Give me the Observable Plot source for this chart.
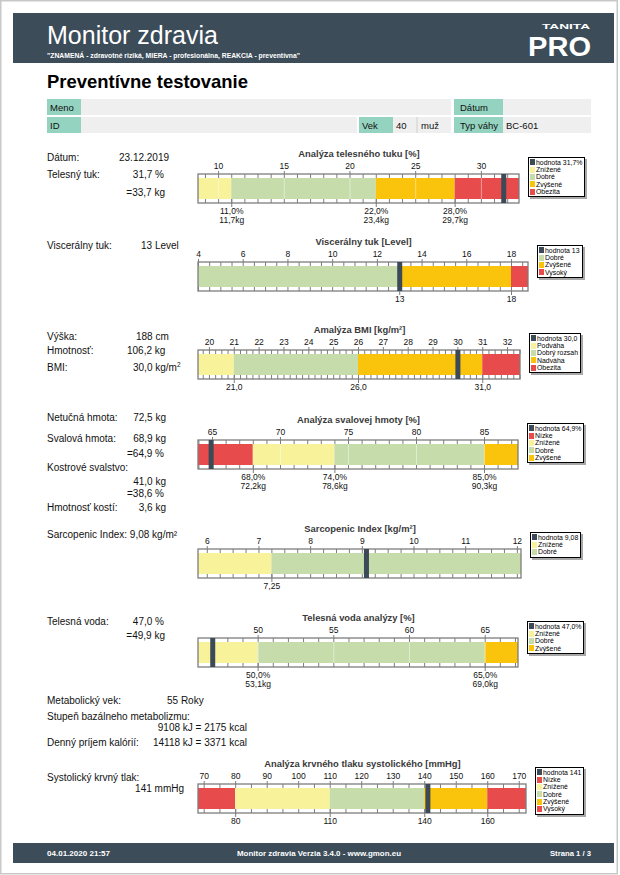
<!DOCTYPE html>
<html><head><meta charset="utf-8">
<script src="https://cdn.jsdelivr.net/npm/d3@7"></script>
<script src="https://cdn.jsdelivr.net/npm/@observablehq/plot@0.6"></script>
<style>
body{margin:0;background:#fff;font-family:"Liberation Sans",Arial,sans-serif;}
#page{position:relative;width:620px;height:875px;overflow:hidden;background:#fff;}
.leg{position:absolute;border:1px solid #000;background:#fff;box-shadow:2px 2px 0 #a8a8a8;font-family:"Liberation Sans",Arial,sans-serif;font-size:6.9px;line-height:7.4px;padding:1px 2px 1px 1px;color:#000;white-space:nowrap;}
.leg .row{height:7.4px;display:flex;align-items:center;}
.leg .sw{display:inline-block;width:4.5px;height:6px;margin-right:1.5px;}
</style></head><body><div id="page"></div>
<script>
// ---------------- DATA ----------------
// Body fat
const fatDomain = [8.47, 32.9];
const fatTicks = [10, 15, 20, 25, 30];
const fatLimits = [11, 22, 28];
const fatZones = ["Znížené", "Dobré", "Zvýšené", "Obezita"];
const fatValue = 31.7;
const fatLabelsA = ["11,0%", "22,0%", "28,0%"];
const fatLabelsB = ["11,7kg", "23,4kg", "29,7kg"];
// Visceral fat
const visDomain = [4, 18.76];
const visTicks = [4, 6, 8, 10, 12, 14, 16, 18];
const visLimits = [13, 18];
const visZones = ["Dobré", "Zvýšené", "Vysoký"];
const visValue = 13;
const visLabelsA = ["13", "18"];
// BMI
const bmiDomain = [19.56, 32.52];
const bmiTicks = [20, 21, 22, 23, 24, 25, 26, 27, 28, 29, 30, 31, 32];
const bmiLimits = [21, 26, 31];
const bmiZones = ["Podváha", "Dobrý rozsah", "Nadváha", "Obezita"];
const bmiValue = 30.0;
const bmiLabelsA = ["21,0", "26,0", "31,0"];
// Muscle mass
const musDomain = [63.97, 87.5];
const musTicks = [65, 70, 75, 80, 85];
const musLimits = [68, 74, 85];
const musZones = ["Nízke", "Znížené", "Dobré", "Zvýšené"];
const musValue = 64.9;
const musLabelsA = ["68,0%", "74,0%", "85,0%"];
const musLabelsB = ["72,2kg", "78,6kg", "90,3kg"];
// Sarcopenic index
const sarDomain = [5.83, 12.08];
const sarTicks = [6, 7, 8, 9, 10, 11, 12];
const sarLimits = [7.25];
const sarZones = ["Znížené", "Dobré"];
const sarValue = 9.08;
const sarLabelsA = ["7,25"];
// Body water
const watDomain = [46.06, 67.2];
const watTicks = [50, 55, 60, 65];
const watLimits = [50, 65];
const watZones = ["Znížené", "Dobré", "Zvýšené"];
const watValue = 47.0;
const watLabelsA = ["50,0%", "65,0%"];
const watLabelsB = ["53,1kg", "69,0kg"];
// Systolic blood pressure
const bpDomain = [68.2, 172.3];
const bpTicks = [70, 80, 90, 100, 110, 120, 130, 140, 150, 160, 170];
const bpLimits = [80, 110, 140, 160];
const bpZones = ["Nízke", "Znížené", "Dobré", "Zvýšené", "Vysoký"];
const bpValue = 141;
const bpLabelsA = ["80", "110", "140", "160"];

// ---------------- STYLE ----------------
const C = {yellow:"#f8f29b", green:"#c6dcab", orange:"#f9c40b", red:"#e84b4b", mark:"#3b4a56", frame:"#7d7d7d"};
const zoneColor = {"Nízke":C.red, "Znížené":C.yellow, "Podváha":C.yellow, "Dobré":C.green, "Dobrý rozsah":C.green,
  "Zvýšené":C.orange, "Nadváha":C.orange, "Obezita":C.red, "Vysoký":C.red};
const FONT = '"Liberation Sans", Arial, sans-serif';

const charts = [
  {title:"Analýza telesného tuku [%]", domain:fatDomain, ticks:fatTicks, minor:1, limits:fatLimits, zones:fatZones, value:fatValue, la:fatLabelsA, lb:fatLabelsB, legendValue:"hodnota 31,7%", top:174, right:519, grid:true},
  {title:"Viscerálny tuk [Level]", domain:visDomain, ticks:visTicks, minor:0.5, limits:visLimits, zones:visZones, value:visValue, la:visLabelsA, legendValue:"hodnota 13", top:262, right:528},
  {title:"Amalýza BMI [kg/m²]", domain:bmiDomain, ticks:bmiTicks, minor:0.25, limits:bmiLimits, zones:bmiZones, value:bmiValue, la:bmiLabelsA, legendValue:"hodnota 30,0", top:350, right:520},
  {title:"Analýza svalovej hmoty [%]", domain:musDomain, ticks:musTicks, minor:1, limits:musLimits, zones:musZones, value:musValue, la:musLabelsA, lb:musLabelsB, legendValue:"hodnota 64,9%", top:440, right:518, grid:true},
  {title:"Sarcopenic Index [kg/m²]", domain:sarDomain, ticks:sarTicks, minor:0.25, limits:sarLimits, zones:sarZones, value:sarValue, la:sarLabelsA, legendValue:"hodnota 9,08", top:549, right:521},
  {title:"Telesná voda analýzy [%]", domain:watDomain, ticks:watTicks, minor:1, limits:watLimits, zones:watZones, value:watValue, la:watLabelsA, lb:watLabelsB, legendValue:"hodnota 47,0%", top:638, right:518, grid:true},
  {title:"Analýza krvného tlaku systolického [mmHg]", domain:bpDomain, ticks:bpTicks, minor:5, limits:bpLimits, zones:bpZones, value:bpValue, la:bpLabelsA, legendValue:"hodnota 141", top:784, right:526}
];

const page = document.getElementById("page");

// ---------------- STATIC PAGE (header, table, texts) ----------------
const bg = d3.select(page).append("svg").attr("width",620).attr("height",875)
  .style("position","absolute").style("left","0px").style("top","0px")
  .style("font-family", FONT);
bg.append("rect").attr("x",0.75).attr("y",0.75).attr("width",616.5).attr("height",873).attr("fill","none").attr("stroke","#c8c8c8").attr("stroke-width",1.5);
bg.append("rect").attr("x",13).attr("y",13).attr("width",601).attr("height",50).attr("fill","#3c4c59");
function T(x, y, s, o = {}) {
  const t = bg.append("text").attr("x",x).attr("y",y).text(s)
    .attr("font-size", o.size || 10).attr("fill", o.fill || "#111")
    .attr("font-weight", o.bold ? "bold" : "normal")
    .attr("text-anchor", o.anchor || "start");
  if (o.len) t.attr("textLength", o.len).attr("lengthAdjust","spacingAndGlyphs");
  return t;
}
T(47, 44, "Monitor zdravia", {size:25, fill:"#fff"});
T(47, 57.5, "\"ZNAMENÁ - zdravotné riziká, MIERA - profesionálna, REAKCIA - preventívna\"", {size:7, fill:"#fff", bold:true, len:253});
T(542, 28.5, "TANITA", {size:7, fill:"#fff", bold:true, len:48});
T(528, 55.5, "PRO", {size:27, fill:"#fff", bold:true, len:63});
T(47, 88, "Preventívne testovanie", {size:18.5, bold:true, fill:"#000", len:201});

// info table
const teal = "#93d3bf", gray = "#efefef";
function cell(x, y, w, fill) { bg.append("rect").attr("x",x).attr("y",y).attr("width",w).attr("height",16).attr("fill",fill); }
cell(47,99,34,teal); cell(81,99,370,gray); cell(454,99,49,teal); cell(503,99,88,gray);
cell(47,117,34,teal); cell(81,117,276,gray); cell(359,117,34,teal); cell(393,117,58,gray); cell(454,117,49,teal); cell(503,117,88,gray);
bg.append("line").attr("x1",417).attr("x2",417).attr("y1",117).attr("y2",133).attr("stroke","#cfcfcf");
T(50,111,"Meno",{size:9.5}); T(460,111,"Dátum",{size:9.5});
T(50,129,"ID",{size:9.5}); T(362,129,"Vek",{size:9.5}); T(396,129,"40",{size:9.5}); T(421,129,"muž",{size:9.5});
T(460,129,"Typ váhy",{size:9.5}); T(506,129,"BC-601",{size:9.5});

// left texts
T(47,161,"Dátum:"); T(119,161,"23.12.2019");
T(47,177.5,"Telesný tuk:"); T(164,177.5,"31,7 %",{anchor:"end"});
T(165,196,"=33,7 kg",{anchor:"end"});
T(47,248.5,"Viscerálny tuk:"); T(141,248.5,"13 Level");
T(47,340,"Výška:"); T(136,340,"188 cm");
T(47,354,"Hmotnosť:"); T(127,354,"106,2 kg");
T(47,371,"BMI:");
const bmiT = T(133,371,"30,0 kg/m"); bmiT.append("tspan").attr("dy",-4).attr("font-size",6.5).text("2");
T(47,421,"Netučná hmota:"); T(166,421,"72,5 kg",{anchor:"end"});
T(47,442,"Svalová hmota:"); T(166,442,"68,9 kg",{anchor:"end"});
T(164,457,"=64,9 %",{anchor:"end"});
T(47,471,"Kostrové svalstvo:");
T(166,485,"41,0 kg",{anchor:"end"});
T(164,497,"=38,6 %",{anchor:"end"});
T(47,511,"Hmotnosť kostí:"); T(166,511,"3,6 kg",{anchor:"end"});
T(47,537.5,"Sarcopenic Index: 9,08 kg/m²");
T(47,625,"Telesná voda:"); T(164,625,"47,0 %",{anchor:"end"});
T(165,639,"=49,9 kg",{anchor:"end"});
T(47,704,"Metabolický vek:"); T(167,704,"55 Roky");
T(47,720,"Stupeň bazálneho metabolizmu:");
T(247,731,"9108 kJ = 2175 kcal",{anchor:"end"});
T(47,746,"Denný príjem kalórií:"); T(247,746,"14118 kJ = 3371 kcal",{anchor:"end"});
T(47,781,"Systolický krvný tlak:"); T(184,792,"141 mmHg",{anchor:"end"});

// footer
bg.append("rect").attr("x",13).attr("y",843).attr("width",601).attr("height",20).attr("fill","#3c4c59");
T(47,855.5,"04.01.2020 21:57",{size:7.5, fill:"#fff", bold:true, len:63});
T(237,855.5,"Monitor zdravia Verzia 3.4.0 - www.gmon.eu",{size:7.5, fill:"#fff", bold:true, len:164});
T(550,855.5,"Strana 1 / 3",{size:7.5, fill:"#fff", bold:true, len:41});

// ---------------- CHARTS ----------------
const OFF = 30, SH = 86; // frame top inside each svg, svg height
charts.forEach(c => {
  const F = OFF;
  const edges = [c.domain[0], ...c.limits, c.domain[1]];
  const bands = c.zones.map((z, i) => ({zone: z, x1: edges[i], x2: edges[i + 1]}));
  const minor = d3.range(Math.ceil(c.domain[0] / c.minor) * c.minor, c.domain[1] + 1e-9, c.minor).filter(v => !c.ticks.includes(+v.toFixed(4)));
  const mid = (c.domain[0] + c.domain[1]) / 2;
  const marks = [
    Plot.rect(bands, {x1: "x1", x2: "x2", y1: F + 4, y2: F + 25, fill: d => zoneColor[d.zone]}),
    c.grid ? Plot.ruleX(c.ticks, {x: d => d, y1: F + 4, y2: F + 25, stroke: "#ffffff", strokeOpacity: 0.45, strokeWidth: 1}) : null,
    Plot.rect([c.domain], {x1: d => d[0], x2: d => d[1], y1: F, y2: F + 29, fill: "none", stroke: C.frame, strokeWidth: 1.3}),
    Plot.ruleX(minor, {x: d => d, y1: F, y2: F + 4, stroke: C.frame, strokeWidth: 1}),
    Plot.ruleX(c.ticks, {x: d => d, y1: F - 3, y2: F + 4, stroke: C.frame, strokeWidth: 1}),
    Plot.ruleX([...minor, ...c.ticks], {x: d => d, y1: F + 25, y2: F + 29, stroke: C.frame, strokeWidth: 1}),
    Plot.ruleX(c.limits, {x: d => d, y1: F + 25, y2: F + 33, stroke: C.frame, strokeWidth: 1}),
    Plot.ruleX([c.value], {x: d => d, y1: F, y2: F + 29, stroke: C.mark, strokeWidth: 5}),
    Plot.text(c.ticks, {x: d => d, y: F - 5.5, text: d => String(d), fontSize: 8.5, fill: "#111", lineAnchor: "bottom"}),
    Plot.text(c.la, {x: (d, i) => c.limits[i], y: F + 39, text: d => d, fontSize: 8.5, fill: "#111", lineAnchor: "bottom"}),
    c.lb ? Plot.text(c.lb, {x: (d, i) => c.limits[i], y: F + 48, text: d => d, fontSize: 8.5, fill: "#111", lineAnchor: "bottom"}) : null,
    Plot.text([c.title], {x: mid, y: F - 18, text: d => d, fontSize: 9.4, fontWeight: "bold", fill: "#3a3a3a", lineAnchor: "bottom"})
  ].filter(Boolean);
  const svg = Plot.plot({
    width: 620, height: SH,
    marginLeft: 198, marginRight: 620 - c.right, marginTop: 0, marginBottom: 0,
    x: {domain: c.domain, axis: null},
    y: {type: "identity", axis: null},
    color: {type: "identity"},
    style: {fontFamily: FONT, background: "transparent", overflow: "visible"},
    marks
  });
  svg.style.position = "absolute";
  svg.style.left = "0px";
  svg.style.top = (c.top - OFF) + "px";
  page.appendChild(svg);

  // legend
  const leg = document.createElement("div");
  leg.className = "leg";
  leg.style.left = (c.right + 9) + "px";
  leg.style.top = (c.top - 17.5) + "px";
  const items = [{label: c.legendValue, color: C.mark}, ...c.zones.map(z => ({label: z, color: zoneColor[z]}))];
  items.forEach(it => {
    const r = document.createElement("div"); r.className = "row";
    const s = document.createElement("span"); s.className = "sw"; s.style.background = it.color;
    r.appendChild(s); r.appendChild(document.createTextNode(it.label));
    leg.appendChild(r);
  });
  page.appendChild(leg);
});
</script></body></html>
